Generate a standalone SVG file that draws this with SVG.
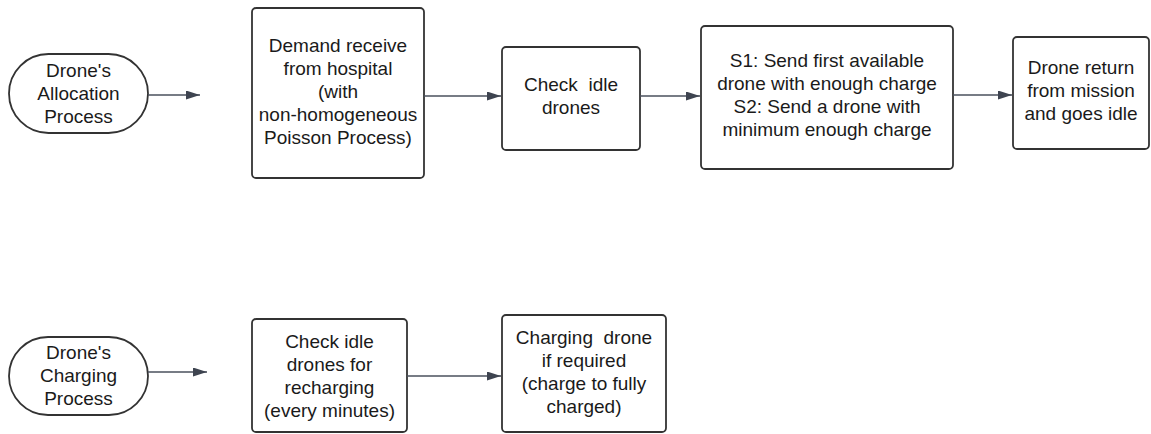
<svg xmlns="http://www.w3.org/2000/svg" width="1151" height="434" viewBox="0 0 1151 434">
  <style>
    .box { fill: #ffffff; stroke: #333333; stroke-width: 1.8; }
    .lbl { font-family: "Liberation Sans", Arial, sans-serif; font-size: 19px; fill: #1a1a1a; text-anchor: middle; }
    .wire { fill: none; stroke: #4a505c; stroke-width: 1.3; }
  </style>
  <defs>
    <marker id="arrow" viewBox="0 0 14 9" refX="14" refY="4.5" markerWidth="14" markerHeight="9" markerUnits="userSpaceOnUse" orient="auto">
      <path d="M0,0 L14,4.5 L0,9 Z" fill="#3e4450"/>
    </marker>
  </defs>
  <rect width="1151" height="434" fill="#ffffff"/>

  <!-- allocation row -->
  <g id="alloc-start">
    <rect class="box" x="9" y="54" width="139" height="79" rx="39.5"/>
    <text class="lbl" x="78.5" y="77">Drone's</text>
    <text class="lbl" x="78.5" y="100">Allocation</text>
    <text class="lbl" x="78.5" y="123">Process</text>
  </g>
  <g id="demand">
    <rect class="box" x="252" y="8" width="172" height="170" rx="4"/>
    <text class="lbl" x="338" y="52">Demand receive</text>
    <text class="lbl" x="338" y="75">from hospital</text>
    <text class="lbl" x="338" y="98">(with</text>
    <text class="lbl" x="338" y="121">non-homogeneous</text>
    <text class="lbl" x="338" y="144">Poisson Process)</text>
  </g>
  <g id="check-idle">
    <rect class="box" x="502" y="47" width="138" height="103" rx="4"/>
    <text class="lbl" x="571" y="91" xml:space="preserve">Check  idle</text>
    <text class="lbl" x="571" y="114">drones</text>
  </g>
  <g id="dispatch">
    <rect class="box" x="701" y="26" width="252" height="143" rx="4"/>
    <text class="lbl" x="827" y="67">S1: Send first available</text>
    <text class="lbl" x="827" y="90">drone with enough charge</text>
    <text class="lbl" x="827" y="113">S2: Send a drone with</text>
    <text class="lbl" x="827" y="136">minimum enough charge</text>
  </g>
  <g id="return">
    <rect class="box" x="1013" y="37" width="136" height="112" rx="4"/>
    <text class="lbl" x="1081" y="74">Drone return</text>
    <text class="lbl" x="1081" y="97">from mission</text>
    <text class="lbl" x="1081" y="120">and goes idle</text>
  </g>

  <!-- charging row -->
  <g id="charge-start">
    <rect class="box" x="9" y="337" width="139" height="78" rx="39"/>
    <text class="lbl" x="78.5" y="359">Drone's</text>
    <text class="lbl" x="78.5" y="382">Charging</text>
    <text class="lbl" x="78.5" y="405">Process</text>
  </g>
  <g id="check-recharge">
    <rect class="box" x="252" y="319" width="155" height="113" rx="4"/>
    <text class="lbl" x="329.5" y="348">Check idle</text>
    <text class="lbl" x="329.5" y="371">drones for</text>
    <text class="lbl" x="329.5" y="394">recharging</text>
    <text class="lbl" x="329.5" y="417">(every minutes)</text>
  </g>
  <g id="charging">
    <rect class="box" x="502" y="315" width="164" height="117" rx="4"/>
    <text class="lbl" x="584" y="344" xml:space="preserve">Charging  drone</text>
    <text class="lbl" x="584" y="367">if required</text>
    <text class="lbl" x="584" y="390">(charge to fully</text>
    <text class="lbl" x="584" y="413">charged)</text>
  </g>

  <g id="connectors">
    <line class="wire" x1="148" y1="95" x2="200" y2="95" marker-end="url(#arrow)"/>
    <line class="wire" x1="424" y1="96" x2="501" y2="96" marker-end="url(#arrow)"/>
    <line class="wire" x1="640" y1="96" x2="700" y2="96" marker-end="url(#arrow)"/>
    <line class="wire" x1="953" y1="95" x2="1012" y2="95" marker-end="url(#arrow)"/>
    <line class="wire" x1="148" y1="372" x2="207" y2="372" marker-end="url(#arrow)"/>
    <line class="wire" x1="407" y1="376" x2="501" y2="376" marker-end="url(#arrow)"/>
  </g>
</svg>
